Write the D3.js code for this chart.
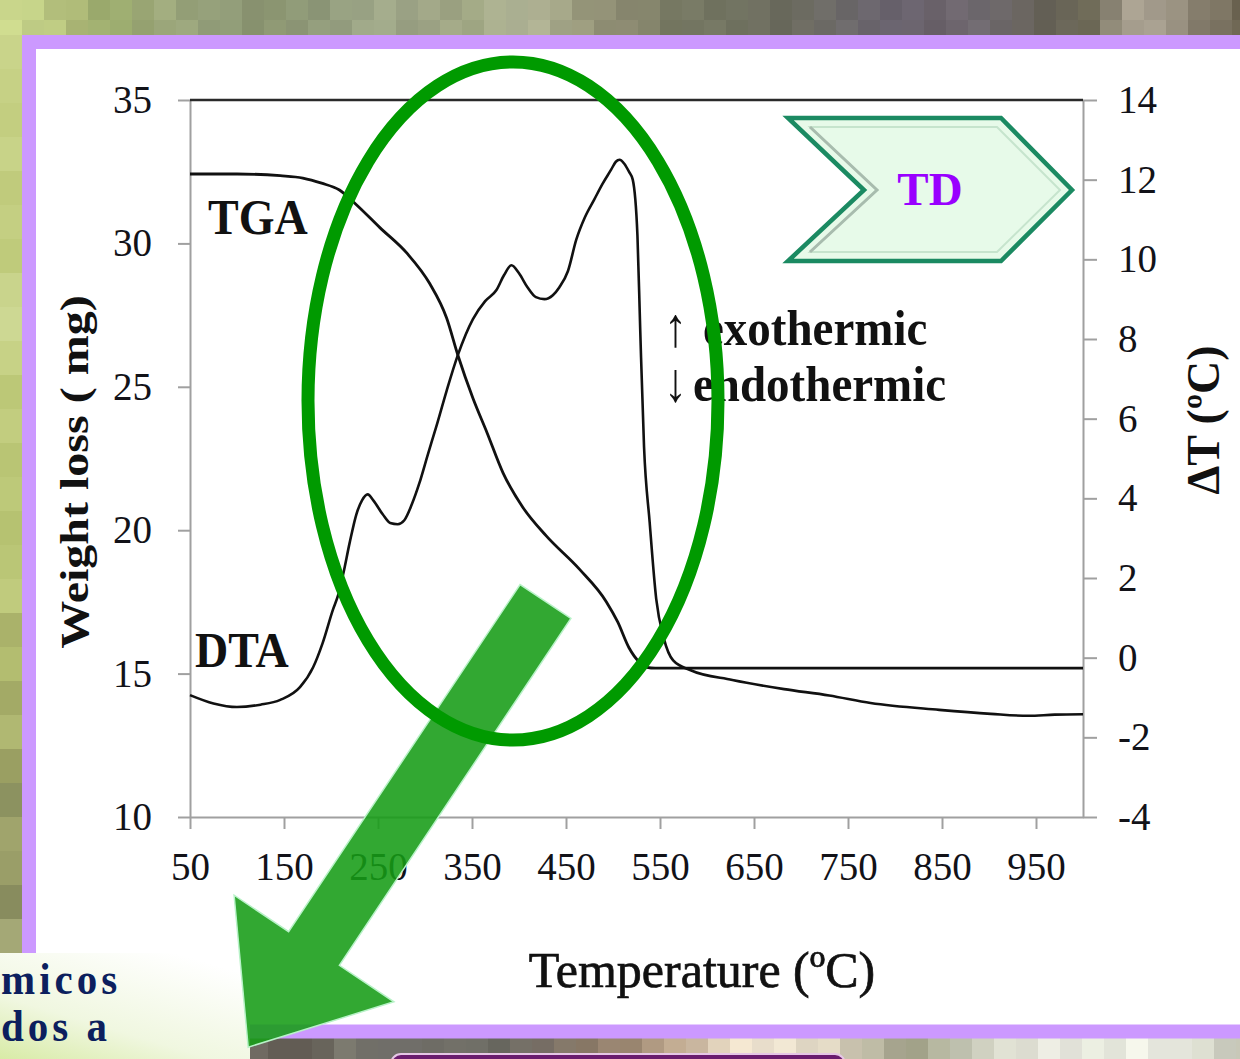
<!DOCTYPE html>
<html>
<head>
<meta charset="utf-8">
<script src="https://cdn.jsdelivr.net/npm/d3@7"></script>
<style>
  body { margin: 0; background: #fff; }
  svg { display: block; }
</style>
</head>
<body>
<div id="chart"></div>
<script>
// TGA curve: weight (mg) vs temperature (ºC), left axis
const tgaTemp   = [50, 100, 146, 170, 190, 209, 227, 252, 281, 305, 323, 335, 351, 366, 383, 404, 429, 464, 493, 505, 517, 528, 536, 545, 600, 800, 1000];
const tgaWeight = [32.42, 32.42, 32.36, 32.28, 32.1, 31.86, 31.35, 30.55, 29.65, 28.6, 27.4, 26.1, 24.6, 23.4, 22.0, 20.8, 19.8, 18.65, 17.5, 16.8, 15.9, 15.4, 15.22, 15.19, 15.19, 15.19, 15.19];

// DTA curve: ΔT (ºC) vs temperature (ºC), right axis
const dtaTemp  = [50, 75, 100, 125, 146, 167, 181, 191, 202, 208, 213, 220, 227, 233, 239, 245, 255, 263, 271, 278, 286, 294, 303, 312, 323, 335, 351, 364, 376, 384, 392, 400, 409, 418, 427, 436, 443, 452, 461, 470, 480, 489, 498, 503, 507, 512, 517, 521, 526, 529, 533, 539, 546, 554, 564, 582, 627, 682, 730, 774, 847, 902, 942, 970, 1000];
const dtaDelta = [-0.94, -1.15, -1.24, -1.18, -1.06, -0.74, -0.24, 0.36, 1.2, 1.6, 2.1, 2.9, 3.6, 3.95, 4.1, 3.95, 3.6, 3.38, 3.35, 3.45, 3.85, 4.38, 5.1, 5.8, 6.7, 7.6, 8.5, 8.95, 9.23, 9.6, 9.85, 9.65, 9.3, 9.05, 9.0, 9.1, 9.3, 9.7, 10.5, 11.05, 11.5, 11.9, 12.25, 12.45, 12.5, 12.4, 12.2, 12.0, 10.6, 8.2, 5.3, 3.4, 1.47, 0.49, -0.07, -0.31, -0.56, -0.79, -0.95, -1.14, -1.31, -1.41, -1.46, -1.43, -1.42];

// tick labels
const xTicks     = [50, 150, 250, 350, 450, 550, 650, 750, 850, 950];
const leftTicks  = [10, 15, 20, 25, 30, 35];
const rightTicks = [-4, -2, 0, 2, 4, 6, 8, 10, 12, 14];

// background mosaic colours (decoration)
const topStops = ["#c9d68b", "#b4c07c", "#9aa96c", "#9ba67a", "#939e7a", "#8a9470", "#8e9878", "#a2ab8c", "#9aa082", "#a2a986", "#b4b89a", "#9a9a7c", "#8c8b72", "#747660", "#727462", "#6c6c5e", "#6c6a66", "#6a6470", "#6a626a", "#706a70", "#666258", "#6c6856", "#b4ac9c", "#8a8272", "#6c6452"];
const leftCol = ["#c9d48a", "#c6d185", "#c3ce80", "#c8d388", "#c0cb7c", "#c4cf82", "#bfcb7b", "#c9d48c", "#cdd893", "#c7d286", "#bcc877", "#c2cd7f", "#b9c574", "#bdc979", "#b6c271", "#bac676", "#c0cb7d", "#aab26a", "#b3bd70", "#a3aa66", "#b0b872", "#9a9f62", "#8c9260", "#a0a46c", "#9a9e68", "#888c5e", "#a4a876"];
const bottomStops = ["#6e6860", "#5e5850", "#7a786e", "#6c6a66", "#74726a", "#686860", "#7a7268", "#887866", "#a08a74", "#c4ae94", "#eadcc6", "#f0e6d4", "#e4dac6", "#b8b4a0", "#a0a088", "#c8cab8", "#dcdccf", "#eeeee4", "#e2e4d8", "#eeeee6", "#dadcd0", "#c8c8b8"];
const jitter = [0, 0.35, -0.25, 0.15, -0.4, 0.3, -0.1, 0.45, -0.3, 0.1, 0.2, -0.35];

const W = 1240, H = 1059;
const serif = "'Liberation Serif','Times New Roman',serif";

const svg = d3.select("#chart").append("svg")
    .attr("width", W)
    .attr("height", H);

const defs = svg.append("defs");
const grad = defs.append("linearGradient")
    .attr("id", "panelGrad")
    .attr("x1", 0).attr("y1", 1).attr("x2", 0.7).attr("y2", 0);
grad.append("stop").attr("offset", 0).attr("stop-color", "#d8eba6");
grad.append("stop").attr("offset", 0.4).attr("stop-color", "#f0f7e0");
grad.append("stop").attr("offset", 1).attr("stop-color", "#ffffff");

function shade(c, k) {
    return k >= 0 ? d3.color(c).brighter(k * 0.3) : d3.color(c).darker(-k * 0.3);
}

// Mosaic background
const bg = svg.append("g");
const tile = 22;
const topInterp = d3.piecewise(d3.interpolateRgb, topStops);
const nTop = Math.ceil(W / tile);
for (let r = 0; r < 2; r++) {
    for (let i = 0; i < nTop; i++) {
        bg.append("rect")
            .attr("x", i * tile).attr("y", r * 20)
            .attr("width", tile).attr("height", 20)
            .attr("fill", shade(topInterp(i / (nTop - 1)), jitter[(i + r * 5) % jitter.length]));
    }
}
leftCol.forEach((c, j) => {
    bg.append("rect")
        .attr("x", 0).attr("y", 35 + j * 34)
        .attr("width", 22).attr("height", 34)
        .attr("fill", c);
});
const botInterp = d3.piecewise(d3.interpolateRgb, bottomStops);
const nBot = Math.ceil((W - 246) / tile);
for (let i = 0; i < nBot; i++) {
    bg.append("rect")
        .attr("x", 246 + i * tile).attr("y", 1038)
        .attr("width", tile).attr("height", 21)
        .attr("fill", shade(botInterp(i / (nBot - 1)), jitter[(i + 3) % jitter.length]));
}
bg.append("rect")
    .attr("x", 391).attr("y", 1054).attr("width", 454).attr("height", 30)
    .attr("rx", 10)
    .attr("fill", "#6a1c6e").attr("stroke", "#e6c6e6").attr("stroke-width", 2);

// Purple frame with white page
svg.append("rect")
    .attr("x", 29).attr("y", 42)
    .attr("width", W).attr("height", 989.5)
    .attr("fill", "#fff")
    .attr("stroke", "#cc99ff")
    .attr("stroke-width", 14);

// Scales
const x  = d3.scaleLinear().domain([50, 1000]).range([190, 1083]);
const yL = d3.scaleLinear().domain([10, 35]).range([817, 100]);
const yR = d3.scaleLinear().domain([-4, 14]).range([817, 100]);

const chart = svg.append("g");

function styleAxis(g) {
    g.attr("font-size", null).attr("font-family", null);
    g.select(".domain").attr("stroke", "#a0a0a0").attr("stroke-width", 2);
    g.selectAll(".tick line").attr("stroke", "#a0a0a0").attr("stroke-width", 2);
    g.selectAll(".tick text")
        .attr("font-family", serif)
        .attr("font-size", 39)
        .attr("fill", "#121218");
}

const plain = d => String(d);

chart.append("g")
    .attr("transform", `translate(0,${yL(10)})`)
    .call(d3.axisBottom(x).tickValues(xTicks).tickFormat(plain).tickSize(12).tickSizeOuter(0).tickPadding(23))
    .call(styleAxis);

chart.append("g")
    .attr("transform", `translate(${x(50)},0)`)
    .call(d3.axisLeft(yL).tickValues(leftTicks).tickFormat(plain).tickSize(12).tickSizeOuter(0).tickPadding(26))
    .call(styleAxis);

chart.append("g")
    .attr("transform", `translate(${x(1000)},0)`)
    .call(d3.axisRight(yR).tickValues(rightTicks).tickFormat(plain).tickSize(14).tickSizeOuter(0).tickPadding(21))
    .call(styleAxis);

// top frame line
chart.append("line")
    .attr("x1", x(50)).attr("x2", x(1000))
    .attr("y1", yL(35)).attr("y2", yL(35))
    .attr("stroke", "#2a2a2a").attr("stroke-width", 2.5);

// Curves
const tgaLine = d3.line()
    .x((d, i) => x(tgaTemp[i]))
    .y(d => yL(d))
    .curve(d3.curveMonotoneX);

const dtaLine = d3.line()
    .x((d, i) => x(dtaTemp[i]))
    .y(d => yR(d))
    .curve(d3.curveMonotoneX);

chart.append("path")
    .attr("d", tgaLine(tgaWeight))
    .attr("fill", "none").attr("stroke", "#111").attr("stroke-width", 2.8);

chart.append("path")
    .attr("d", dtaLine(dtaDelta))
    .attr("fill", "none").attr("stroke", "#111").attr("stroke-width", 2.6);

// Text helper (the source picture is slightly stretched vertically)
function label(parent, txt, tx, ty, o) {
    const g = parent.append("g")
        .attr("transform", `translate(${tx},${ty}) rotate(${o.rot || 0}) scale(${o.sx || 1},${o.sy || 1})`);
    return g.append("text")
        .attr("text-anchor", o.anchor || "start")
        .attr("font-family", o.family || serif)
        .attr("font-size", o.size)
        .attr("font-weight", o.weight || "normal")
        .attr("fill", o.fill || "#111")
        .attr("letter-spacing", o.spacing || null)
        .text(txt);
}

label(chart, "TGA", 208, 234, { size: 46, weight: "bold", sy: 1.08 });
label(chart, "DTA", 195, 667, { size: 46, weight: "bold", sy: 1.08 });

label(chart, "↑", 664, 346, { size: 46, sy: 1.2 });
label(chart, "exothermic", 703, 345, { size: 47, weight: "bold", sy: 1.1 });
label(chart, "↓", 664, 401, { size: 46, sy: 1.2 });
label(chart, "endothermic", 693, 401, { size: 47, weight: "bold", sy: 1.1 });

label(chart, "Weight loss ( mg)", 88, 472, { size: 40, weight: "bold", rot: -90, sx: 1.2, anchor: "middle" });
label(chart, "ΔT (ºC)", 1219, 420, { size: 46, weight: "bold", rot: -90, anchor: "middle" });
label(chart, "Temperature (ºC)", 702, 987, { size: 50, anchor: "middle", sy: 1.02 })
    .attr("stroke", "#111").attr("stroke-width", 0.7);

// TD chevron
const chevOuter = [[788, 118], [1001, 118], [1072, 190], [1001, 261], [788, 261], [864, 190]];
const chevInner = [[810, 127], [997, 127], [1060, 190], [997, 252], [810, 252], [877, 190]];
chart.append("polygon")
    .attr("points", chevOuter.join(" "))
    .attr("fill", "#e7fae9")
    .attr("stroke", "#1b8a62").attr("stroke-width", 4.5)
    .attr("stroke-linejoin", "miter");
chart.append("polygon")
    .attr("points", chevInner.join(" "))
    .attr("fill", "none")
    .attr("stroke", "#c6e4cd").attr("stroke-width", 2);
chart.append("polyline")
    .attr("points", [chevInner[0], chevInner[5], chevInner[4]].join(" "))
    .attr("fill", "none")
    .attr("stroke", "#a8bcae").attr("stroke-width", 3);
label(chart, "TD", 930, 205, { size: 47, weight: "bold", anchor: "middle", fill: "#9900ff" });

// Bottom-left slide text panel (partly cut off in the source)
svg.append("rect")
    .attr("x", 0).attr("y", 953)
    .attr("width", 250).attr("height", 106)
    .attr("fill", "url(#panelGrad)");
const panelFont = "'Liberation Serif','DejaVu Serif',serif";
label(svg, "micos", 1, 994, { size: 41, weight: "bold", fill: "#0c1f5e", family: panelFont, spacing: 4, sy: 1.08 });
label(svg, "dos a", 1, 1041, { size: 41, weight: "bold", fill: "#0c1f5e", family: panelFont, spacing: 4, sy: 1.08 });

// Big green arrow
const tail = [545.5, 601.5], baseMid = [314, 948.5];
const shaftHalf = 30.5, headHalf = 96, headLen = 118.6;
const len = Math.hypot(baseMid[0] - tail[0], baseMid[1] - tail[1]);
const u = [(baseMid[0] - tail[0]) / len, (baseMid[1] - tail[1]) / len];
const n = [-u[1], u[0]];
const pt = (p, a, b) => [p[0] + a * n[0] + b * u[0], p[1] + a * n[1] + b * u[1]];
const arrowPts = [
    pt(tail, -shaftHalf, 0), pt(tail, shaftHalf, 0),
    pt(baseMid, shaftHalf, 0), pt(baseMid, headHalf, 0),
    pt(baseMid, 0, headLen),
    pt(baseMid, -headHalf, 0), pt(baseMid, -shaftHalf, 0)
];
svg.append("polygon")
    .attr("points", arrowPts.map(p => p.map(v => v.toFixed(1)).join(",")).join(" "))
    .attr("fill", "#169c16")
    .attr("fill-opacity", 0.88)
    .attr("stroke", "#b8f2c8").attr("stroke-width", 1.5);

// Green ellipse highlight
svg.append("ellipse")
    .attr("cx", 513).attr("cy", 401)
    .attr("rx", 205).attr("ry", 339)
    .attr("fill", "none")
    .attr("stroke", "#009a00")
    .attr("stroke-width", 13);
</script>
</body>
</html>
